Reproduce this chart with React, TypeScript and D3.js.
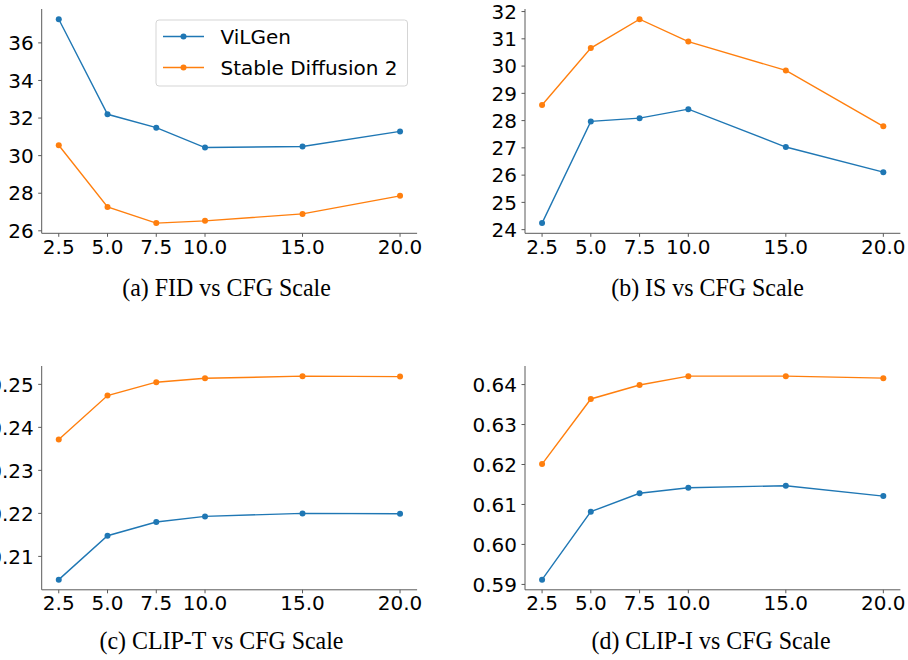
import React from "react";
import * as d3 from "d3";

const cfgScales = [2.5, 5.0, 7.5, 10.0, 15.0, 20.0];
const xTickLabels = ["2.5", "5.0", "7.5", "10.0", "15.0", "20.0"];
const seriesNames = ["ViLGen", "Stable Diffusion 2"];
const seriesColors = ["#1f77b4", "#ff7f0e"];

const fidViLGen = [37.26, 32.2, 31.49, 30.43, 30.49, 31.29];
const fidSD2 = [30.55, 27.27, 26.41, 26.53, 26.9, 27.86];
const isViLGen = [24.24, 27.97, 28.09, 28.42, 27.03, 26.11];
const isSD2 = [28.57, 30.66, 31.72, 30.9, 29.84, 27.79];
const clipTViLGen = [0.2046, 0.2148, 0.218, 0.2193, 0.22, 0.2199];
const clipTSD2 = [0.2372, 0.2474, 0.2505, 0.2514, 0.2519, 0.2518];
const clipIViLGen = [0.5912, 0.6082, 0.6128, 0.6142, 0.6147, 0.6121];
const clipISD2 = [0.6201, 0.6364, 0.6399, 0.6421, 0.6421, 0.6416];

const fidTicks = [26, 28, 30, 32, 34, 36];
const isTicks = [24, 25, 26, 27, 28, 29, 30, 31, 32];
const clipTTicks = [0.21, 0.22, 0.23, 0.24, 0.25];
const clipITicks = [0.59, 0.6, 0.61, 0.62, 0.63, 0.64];

const captions = [
  "(a) FID vs CFG Scale",
  "(b) IS vs CFG Scale",
  "(c) CLIP-T vs CFG Scale",
  "(d) CLIP-I vs CFG Scale",
];

type PanelSpec = {
  left: number;
  right: number;
  top: number;
  bottom: number;
  series: number[][];
  yTicks: number[];
  yFmt: (v: number) => string;
  legend?: boolean;
  caption: string;
  capX: number;
  capY: number;
};

const FONT = "DejaVu Sans, sans-serif";

function padDomain(vals: number[], frac: number): [number, number] {
  const [lo, hi] = d3.extent(vals) as [number, number];
  const m = (hi - lo) * frac;
  return [lo - m, hi + m];
}

function Panel({ p }: { p: PanelSpec }) {
  const xd = padDomain(cfgScales, 0.05);
  const x = d3.scaleLinear().domain(xd).range([p.left, p.right]);
  const yd = padDomain(p.series.flat(), 0.05);
  const y = d3.scaleLinear().domain(yd).range([p.bottom, p.top]);
  const line = d3
    .line<number>()
    .x((_, i) => x(cfgScales[i]))
    .y((d) => y(d));
  const spine = "#5a5a5a";
  return (
    <g>
      {p.series.map((s, si) => (
        <g key={si}>
          <path d={line(s) || ""} fill="none" stroke={seriesColors[si]} strokeWidth={1.4} />
          {s.map((v, i) => (
            <circle key={i} cx={x(cfgScales[i])} cy={y(v)} r={3} fill={seriesColors[si]} />
          ))}
        </g>
      ))}
      <line x1={p.left} x2={p.left} y1={p.top} y2={p.bottom} stroke={spine} strokeWidth={1} />
      <line x1={p.left} x2={p.right} y1={p.bottom} y2={p.bottom} stroke={spine} strokeWidth={1} />
      {cfgScales.map((t, i) => (
        <g key={i}>
          <line x1={x(t)} x2={x(t)} y1={p.bottom} y2={p.bottom + 3.5} stroke={spine} strokeWidth={1} />
          <text x={x(t)} y={p.bottom + 5} dy="0.76em" textAnchor="middle" fontFamily={FONT} fontSize={20} fill="#000">
            {xTickLabels[i]}
          </text>
        </g>
      ))}
      {p.yTicks.map((t, i) => (
        <g key={i}>
          <line x1={p.left - 3.5} x2={p.left} y1={y(t)} y2={y(t)} stroke={spine} strokeWidth={1} />
          <text x={p.left - 8} y={y(t)} dy="0.36em" textAnchor="end" fontFamily={FONT} fontSize={20} fill="#000">
            {p.yFmt(t)}
          </text>
        </g>
      ))}
      {p.legend && (
        <g>
          <rect x={156} y={20} width={251.5} height={66} rx={3} fill="#fff" fillOpacity={0.8} stroke="#d5d5d5" strokeWidth={1} />
          {seriesNames.map((n, i) => (
            <g key={i}>
              <line x1={163} x2={204} y1={36.5 + i * 31} y2={36.5 + i * 31} stroke={seriesColors[i]} strokeWidth={1.4} />
              <circle cx={183.5} cy={36.5 + i * 31} r={3} fill={seriesColors[i]} />
              <text x={220.5} y={36.5 + i * 31} dy="0.36em" fontFamily={FONT} fontSize={20} fill="#000">
                {n}
              </text>
            </g>
          ))}
        </g>
      )}
      <text
        transform={`translate(${p.capX},${p.capY}) scale(0.92,1)`}
        textAnchor="middle"
        fontFamily="Liberation Serif, Times New Roman, serif"
        fontSize={26}
        fill="#000"
      >
        {p.caption}
      </text>
    </g>
  );
}

export default function App() {
  const f2 = (v: number) => v.toFixed(2);
  const f0 = (v: number) => String(Math.round(v));
  const panels: PanelSpec[] = [
    { left: 41.7, right: 417.1, top: 9, bottom: 233.3, series: [fidViLGen, fidSD2], yTicks: fidTicks, yFmt: f0, legend: true, caption: captions[0], capX: 226.5, capY: 296 },
    { left: 525, right: 900.4, top: 9, bottom: 233.3, series: [isViLGen, isSD2], yTicks: isTicks, yFmt: f0, caption: captions[1], capX: 707.5, capY: 296 },
    { left: 41.7, right: 417.1, top: 366, bottom: 589.8, series: [clipTViLGen, clipTSD2], yTicks: clipTTicks, yFmt: f2, caption: captions[2], capX: 221.5, capY: 649 },
    { left: 525, right: 900.4, top: 366, bottom: 589.8, series: [clipIViLGen, clipISD2], yTicks: clipITicks, yFmt: f2, caption: captions[3], capX: 711, capY: 649 },
  ];
  return (
    <svg
      width={908}
      height={660}
      viewBox="0 0 908 660"
      style={{ position: "absolute", left: 0, top: 0, background: "#fff", display: "block" }}
    >
      <rect x={0} y={0} width={908} height={660} fill="#fff" />
      {panels.map((p, i) => (
        <Panel key={i} p={p} />
      ))}
    </svg>
  );
}
